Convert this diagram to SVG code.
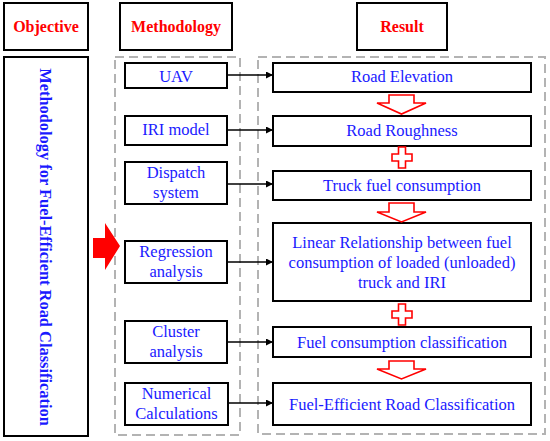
<svg xmlns="http://www.w3.org/2000/svg" width="550" height="441" viewBox="0 0 550 441">
<defs>
<style>
.box{fill:#fff;stroke:#000;stroke-width:2}
.dash{fill:none;stroke:#b3b3b3;stroke-width:2;stroke-dasharray:9 5}
.hd{font-family:"Liberation Serif",serif;font-weight:bold;font-size:16px;fill:#ff0000;text-anchor:middle}
.t{font-family:"Liberation Serif",serif;font-size:16.5px;fill:#1a1aff;text-anchor:middle}
.vt{font-family:"Liberation Serif",serif;font-weight:bold;font-size:16.4px;fill:#1a1aff;text-anchor:middle}
.con{stroke:#000;stroke-width:1.6;fill:none;marker-end:url(#ah)}
.ra{fill:#fff;stroke:#ff0000;stroke-width:1.6}
</style>
<marker id="ah" viewBox="0 0 10 10" refX="10" refY="5" markerWidth="7" markerHeight="7" markerUnits="userSpaceOnUse" orient="auto">
<path d="M0,0 L10,5 L0,10 Z" fill="#000"/>
</marker>
</defs>
<rect width="550" height="441" fill="#fff"/>

<g id="frames">
<rect class="dash" x="115" y="57" width="125" height="378"/>
<rect class="dash" x="258" y="57" width="287" height="377"/>
</g>

<g id="hdr-objective"><rect class="box" x="4" y="3" width="84" height="47"/><text class="hd" x="46" y="32">Objective</text></g>
<g id="hdr-methodology"><rect class="box" x="120" y="3" width="112" height="47"/><text class="hd" x="176" y="32">Methodology</text></g>
<g id="hdr-result"><rect class="box" x="357" y="3" width="90" height="47"/><text class="hd" x="402" y="32">Result</text></g>

<g id="objective"><rect class="box" x="4" y="57" width="84" height="379"/>
<text class="vt" transform="translate(40,247) rotate(90)">Methodology for Fuel-Efficient Road Classification</text></g>

<g id="big-arrow"><polygon points="93,238 105,238 105,223 120,246 105,270 105,258 93,258" fill="#ff0000"/></g>

<g id="m-uav"><rect class="box" x="125" y="63" width="102" height="25"/><text class="t" x="176" y="82">UAV</text></g>
<g id="m-iri"><rect class="box" x="125" y="116" width="102" height="29"/><text class="t" x="176" y="135">IRI model</text></g>
<g id="m-dispatch"><rect class="box" x="125" y="162" width="102" height="42"/><text class="t" x="176" y="178">Dispatch</text><text class="t" x="176" y="198">system</text></g>
<g id="m-regression"><rect class="box" x="125" y="241" width="102" height="42"/><text class="t" x="176" y="257">Regression</text><text class="t" x="176" y="277">analysis</text></g>
<g id="m-cluster"><rect class="box" x="125" y="321" width="102" height="42"/><text class="t" x="176" y="337">Cluster</text><text class="t" x="176" y="357">analysis</text></g>
<g id="m-numerical"><rect class="box" x="125" y="383" width="103" height="42"/><text class="t" x="176.5" y="399">Numerical</text><text class="t" x="176.5" y="419">Calculations</text></g>

<g id="r-elevation"><rect class="box" x="273" y="63" width="258" height="29"/><text class="t" x="402" y="82">Road Elevation</text></g>
<g id="r-roughness"><rect class="box" x="273" y="116" width="258" height="30"/><text class="t" x="402" y="136">Road Roughness</text></g>
<g id="r-truck"><rect class="box" x="273" y="171" width="258" height="29"/><text class="t" x="402" y="191">Truck fuel consumption</text></g>
<g id="r-linear"><rect class="box" x="273" y="223" width="258" height="78"/><text class="t" x="402" y="248">Linear Relationship between fuel</text><text class="t" x="402" y="268">consumption of loaded (unloaded)</text><text class="t" x="402" y="288">truck and IRI</text></g>
<g id="r-class"><rect class="box" x="273" y="327" width="258" height="30"/><text class="t" x="402" y="347.5">Fuel consumption classification</text></g>
<g id="r-fer"><rect class="box" x="273" y="383" width="258" height="42"/><text class="t" x="402" y="409.5">Fuel-Efficient Road Classification</text></g>

<g id="connectors">
<line class="con" x1="227" y1="75" x2="273" y2="75"/>
<line class="con" x1="227" y1="130" x2="273" y2="130"/>
<line class="con" x1="227" y1="184" x2="273" y2="184"/>
<line class="con" x1="227" y1="262" x2="273" y2="262"/>
<line class="con" x1="227" y1="342" x2="273" y2="342"/>
<line class="con" x1="228" y1="403" x2="273" y2="403"/>
<polygon class="ra" points="389,95 414,95 414,103 426,103 401.5,114 377,103 389,103"/>
<polygon class="ra" points="389,203 414,203 414,212 426,212 401.5,222 377,212 389,212"/>
<polygon class="ra" points="389,361 414,361 414,369 426,369 401.5,379 377,369 389,369"/>
<polygon class="ra" points="398.5,147 405.5,147 405.5,154 412,154 412,161 405.5,161 405.5,168 398.5,168 398.5,161 392,161 392,154 398.5,154"/>
<polygon class="ra" points="398.5,304 405.5,304 405.5,311 412,311 412,318 405.5,318 405.5,325 398.5,325 398.5,318 392,318 392,311 398.5,311"/>
</g>
</svg>
